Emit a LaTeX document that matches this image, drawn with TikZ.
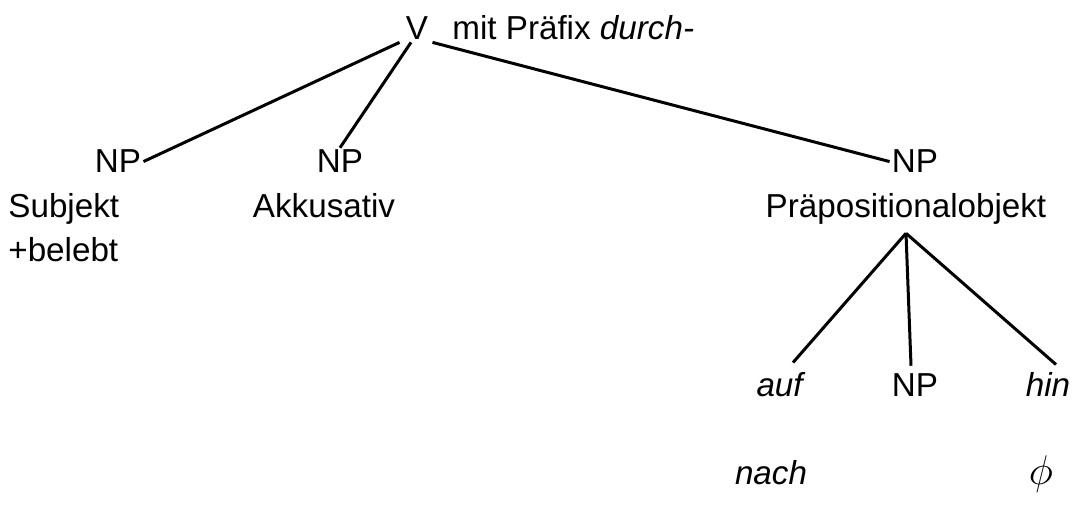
\documentclass[tikz,border=0pt]{standalone}
\usepackage{fontspec}
\setmainfont{Liberation Sans}
\usepackage{amsmath}
\usepackage{tikz}

\begin{document}
\begin{tikzpicture}[x=0.5pt, y=-0.5pt, font=\fontsize{16.6}{20}\selectfont,
  every node/.style={inner sep=1pt, anchor=base},
  branch/.style={line width=1.5pt}]
\useasboundingbox (0,0) rectangle (1080,506);
%%%%% Top %%%%%
\node (v) at (417,40) {V};
\node[anchor=base west] (pref) at (450,40) {mit Präfix \textit{durch-}};
%%%%% Second row %%%%%
\node (subj) at (118,173) {NP};
\node[anchor=base west] (subjlab) at (6,218) {Subjekt};
\node[anchor=base west] (bel) at (6,262) {+belebt};
\node (akk) at (340,173) {NP};
\node (akklab) at (324,218) {Akkusativ};
\node (prep) at (915,173) {NP};
\node (preplab) at (906,218) {Präpositionalobjekt};
%%%%% Third row %%%%%
\node (auf) at (781,397) {\textit{auf}};
\node (np) at (915,397) {NP};
\node (hin) at (1048,397) {\textit{hin}};
\node (nach) at (771,485) {\textit{nach}};
\node (null) at (1041,485) {\fontsize{22}{26}\selectfont$\phi$};
%%%%% Branches %%%%%
\draw[branch] (subj.east) -- ([xshift=-2pt]v.south west);
\draw[branch] ([xshift=-3pt]v.south) -- (akk.north);
\draw[branch] ([xshift=1pt]v.south east) -- (prep.west);
\draw[branch] ([yshift=-3pt]preplab.south) -- ([xshift=6pt,yshift=4pt]auf.north);
\draw[branch] ([yshift=-3pt]preplab.south) -- ([xshift=-2pt,yshift=3pt]np.north);
\draw[branch] ([yshift=-3pt]preplab.south) -- ([xshift=4pt,yshift=3pt]hin.north);
\end{tikzpicture}
\end{document}
